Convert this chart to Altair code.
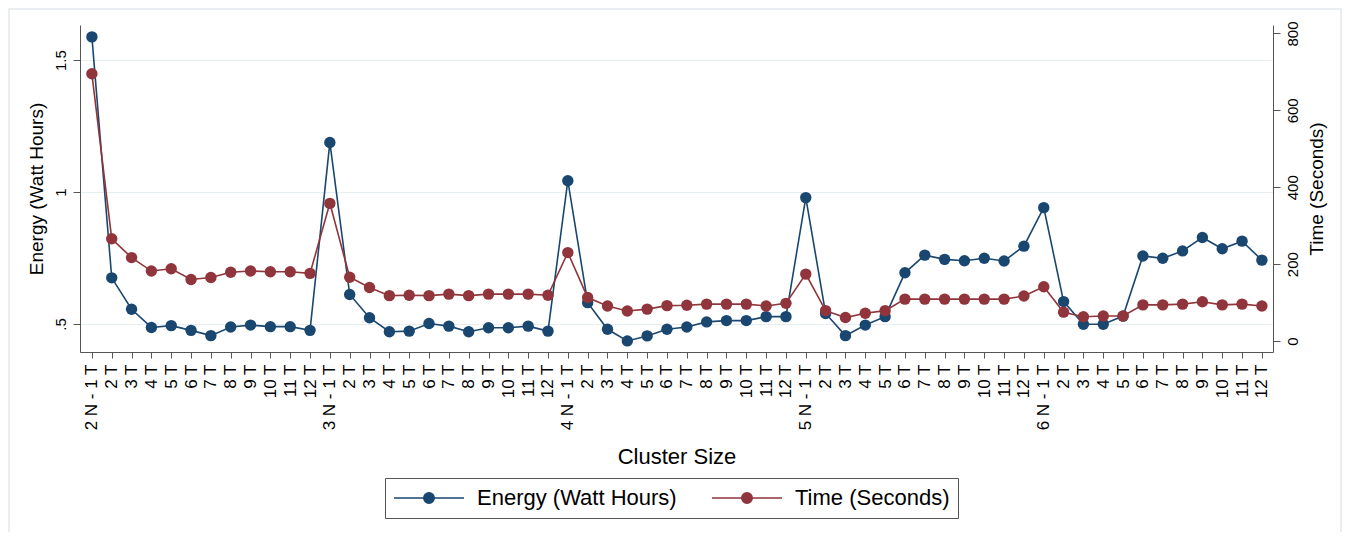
import json
import altair as alt
import pandas as pd

# ---------------- data ----------------
groups = ["2 N", "3 N", "4 N", "5 N", "6 N"]
tasks = ["1 T", "2 T", "3 T", "4 T", "5 T", "6 T", "7 T", "8 T", "9 T", "10 T", "11 T", "12 T"]

energy_wh = [
    1.588, 0.675, 0.556, 0.487, 0.494, 0.476, 0.456, 0.489, 0.496, 0.490, 0.490, 0.476,
    1.188, 0.612, 0.524, 0.471, 0.473, 0.502, 0.492, 0.471, 0.486, 0.486, 0.492, 0.473,
    1.043, 0.581, 0.480, 0.436, 0.455, 0.480, 0.489, 0.508, 0.513, 0.513, 0.528, 0.528,
    0.979, 0.540, 0.456, 0.496, 0.528, 0.694, 0.761, 0.745, 0.740, 0.749, 0.739, 0.795,
    0.941, 0.585, 0.499, 0.499, 0.530, 0.758, 0.749, 0.777, 0.828, 0.785, 0.814, 0.742,
]
time_s = [
    695, 266, 217, 182, 188, 160, 165, 179, 182, 180, 180, 176,
    358, 166, 139, 118, 119, 118, 122, 118, 122, 122, 122, 119,
    230, 113, 91, 78, 83, 92, 93, 96, 96, 96, 91, 98,
    174, 79, 61, 72, 79, 109, 109, 109, 109, 109, 109, 117,
    141, 75, 63, 65, 65, 94, 94, 96, 102, 94, 96, 91,
]

left_ticks = [0.5, 1, 1.5]
left_tick_labels = [".5", "1", "1.5"]
right_ticks = [0, 200, 400, 600, 800]

series_names = ["Energy (Watt Hours)", "Time (Seconds)"]

labels = []
for g in groups:
    for i, t in enumerate(tasks):
        labels.append(f"{g} - {t}" if i == 0 else t)

df = pd.DataFrame({"idx": list(range(len(labels))), "label": labels,
                   "energy": energy_wh, "time": time_s})

# ---------------- style ----------------
FONT = "Liberation Sans"
NAVY = "#1a476f"
MAROON = "#90353b"
AXIS = "#555555"
GRID = "#e6eef1"

x_label_expr = json.dumps(labels) + "[datum.value]"
left_expr = ""
for v, l in zip(left_ticks, left_tick_labels):
    left_expr += f"datum.value == {v} ? '{l}' : "
left_expr += "datum.label"

color_scale = alt.Scale(domain=series_names, range=[NAVY, MAROON])

legend_path = ("M-1,0L-0.15,0M0.15,0L1,0"
               "M-0.15,0A0.15,0.15 0 1,0 0.15,0A0.15,0.15 0 1,0 -0.15,0Z")
legend = alt.Legend(
    orient="none", legendX=305, legendY=453, direction="horizontal", title=None,
    symbolType=legend_path, symbolSize=4900, symbolStrokeWidth=1.5, symbolOpacity=1,
    clipHeight=24,
    labelFont=FONT, labelFontSize=22, labelColor="black", labelOffset=12,
    labelLimit=400, columnPadding=34, padding=8, strokeColor="#555555",
    fillColor="white",
)

x_enc = alt.X(
    "idx:Q",
    scale=alt.Scale(domain=[-0.6, 59.56], nice=False, zero=False),
    axis=alt.Axis(
        values=list(range(len(labels))), labelExpr=x_label_expr, labelAngle=-90,
        labelAlign="right", labelBaseline="middle", labelFont=FONT, labelFontSize=17,
        labelColor="black", labelPadding=6, tickSize=6, tickColor=AXIS, domainColor=AXIS,
        grid=False, title="Cluster Size", titleFont=FONT, titleFontSize=22,
        titleFontWeight="normal", titleColor="black", titlePadding=16, labelOverlap=False,
        labelBound=False, labelFlush=False,
    ),
)

y_energy = alt.Y(
    "energy:Q",
    scale=alt.Scale(domain=[0.394, 1.633], nice=False, zero=False),
    axis=alt.Axis(
        orient="left", values=left_ticks, labelExpr=left_expr, labelAngle=-90,
        labelAlign="center", labelBaseline="bottom", labelFont=FONT, labelFontSize=15,
        labelColor="black", labelPadding=5, tickSize=7, tickColor=AXIS, domainColor=AXIS,
        grid=True, gridColor=GRID, gridWidth=1.2,
        title="Energy (Watt Hours)", titleFont=FONT, titleFontSize=19,
        titleFontWeight="normal", titleColor="black", titlePadding=7,
    ),
)

y_time = alt.Y(
    "time:Q",
    scale=alt.Scale(domain=[-28.6, 822], nice=False, zero=False),
    axis=alt.Axis(
        orient="right", values=right_ticks, labelAngle=-90,
        labelAlign="center", labelBaseline="top", labelFont=FONT, labelFontSize=15,
        labelColor="black", labelPadding=5, tickSize=7, tickColor=AXIS, domainColor=AXIS,
        grid=False, title="Time (Seconds)", titleFont=FONT, titleFontSize=19,
        titleFontWeight="normal", titleColor="black", titlePadding=7, titleAngle=270,
        titleBaseline="top",
    ),
)

base = alt.Chart(df)

e_color = alt.Color("series:N", scale=color_scale, legend=legend)
energy_base = base.transform_calculate(series=f"'{series_names[0]}'")
time_base = base.transform_calculate(series=f"'{series_names[1]}'")

energy_layer = alt.layer(
    energy_base.mark_line(strokeWidth=1.6).encode(x=x_enc, y=y_energy, color=e_color),
    energy_base.mark_circle(size=130, opacity=1).encode(x=x_enc, y=y_energy, color=e_color),
)
time_layer = alt.layer(
    time_base.mark_line(strokeWidth=1.6).encode(x=x_enc, y=y_time, color=e_color),
    time_base.mark_circle(size=130, opacity=1).encode(x=x_enc, y=y_time, color=e_color),
)

frame = alt.Chart(pd.DataFrame({"a": [0]})).mark_rect(
    fill=None, stroke="#e3e9ee", strokeWidth=1.5
).encode(
    x=alt.value(-71), x2=alt.value(1261), y=alt.value(-16), y2=alt.value(508)
)

chart = alt.layer(frame, energy_layer, time_layer).resolve_scale(
    y="independent"
).properties(
    width=1193, height=327,
    autosize=alt.AutoSizeParams(type="none"),
    padding={"left": 72, "top": 17, "right": 69, "bottom": 180},
    background="white",
).configure_view(stroke=None)

chart.save("out.html", embed_options={"renderer": "svg", "actions": False})
